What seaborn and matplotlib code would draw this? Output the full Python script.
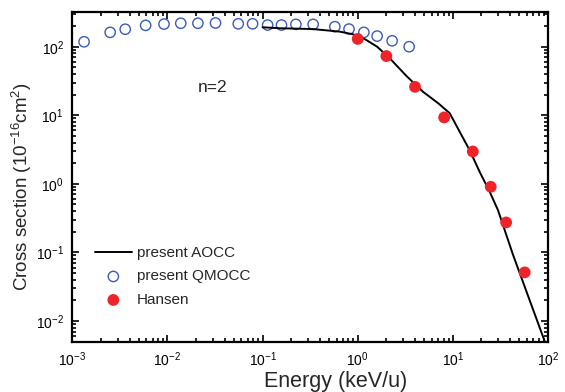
import matplotlib
matplotlib.use("Agg")
import matplotlib.pyplot as plt
import seaborn as sns
import numpy as np
import pandas as pd
from matplotlib.ticker import LogLocator, NullFormatter

# ---- data ----
aocc_energy = [0.1, 0.152, 0.337, 0.649, 0.89, 1.2, 1.6, 2.17, 3.26, 4.86, 7.0, 9.27,
               11.8, 15.0, 19.1, 24.4, 29.8, 42.9, 88.7, 100.0]
aocc_sigma = [192, 186, 181, 166, 152, 128, 100, 67.8, 37.3, 22.0, 15.0, 10.7,
              5.74, 3.1, 1.50, 0.764, 0.413, 0.092, 0.00586, 0.0038]

qmocc_energy = [0.00133, 0.0025, 0.0036, 0.0059, 0.0092, 0.0138, 0.0209, 0.032,
                0.0555, 0.0785, 0.113, 0.158, 0.224, 0.34, 0.575, 0.81, 1.16,
                1.6, 2.3, 3.47]
qmocc_sigma = [118, 162, 180, 205, 214, 220, 220, 222, 216, 216, 207, 207, 212,
               212, 196, 181, 162, 143, 122, 100]

hansen_energy = [1.0, 2.0, 4.0, 8.1, 16.2, 25.0, 36.3, 56.9]
hansen_sigma = [130, 73, 26, 9.3, 2.96, 0.905, 0.273, 0.051]

labels = ["present AOCC", "present QMOCC", "Hansen"]
annotation = "n=2"

# ---- style ----
sns.set_style("ticks")
plt.rcParams["font.family"] = ["Liberation Sans", "DejaVu Sans"]
plt.rcParams["mathtext.default"] = "regular"
plt.rcParams["mathtext.fontset"] = "custom"
plt.rcParams["mathtext.rm"] = "Liberation Sans"

fig = plt.figure(figsize=(5.65, 3.92), dpi=100)
ax = fig.add_axes([72.3 / 565, 1 - 341.7 / 392, (548 - 72.3) / 565, (341.7 - 12) / 392])

df_a = pd.DataFrame({"E": aocc_energy, "S": aocc_sigma})
df_q = pd.DataFrame({"E": qmocc_energy, "S": qmocc_sigma})
df_h = pd.DataFrame({"E": hansen_energy, "S": hansen_sigma})

sns.lineplot(data=df_a, x="E", y="S", ax=ax, color="black", linewidth=1.4,
             label=labels[0], sort=False, zorder=3)
sns.scatterplot(data=df_q, x="E", y="S", ax=ax, facecolor="none",
                edgecolor="#3a5cb8", linewidth=1.0, s=55, marker="o",
                label=labels[1], zorder=2)
sns.scatterplot(data=df_h, x="E", y="S", ax=ax, color="#ee2428",
                edgecolor="none", s=72, marker="o", label=labels[2], zorder=4)

ax.set_xscale("log")
ax.set_yscale("log")
ax.set_xlim(1e-3, 1e2)
ax.set_ylim(0.00497, 321)

ax.xaxis.set_major_locator(LogLocator(base=10, numticks=10))
ax.xaxis.set_minor_locator(LogLocator(base=10, subs=np.arange(2, 10), numticks=20))
ax.yaxis.set_major_locator(LogLocator(base=10, numticks=10))
ax.yaxis.set_minor_locator(LogLocator(base=10, subs=np.arange(2, 10), numticks=20))
ax.xaxis.set_minor_formatter(NullFormatter())
ax.yaxis.set_minor_formatter(NullFormatter())

ax.tick_params(which="both", direction="in", top=True, right=True, width=1.2,
               colors="black")
ax.tick_params(which="major", length=5, labelsize=10, pad=6)
ax.tick_params(which="minor", length=2.7)
for sp in ax.spines.values():
    sp.set_linewidth(1.6)
    sp.set_color("black")

ax.set_xlabel("Energy (keV/u)", fontsize=15.5)
ax.set_ylabel(r"Cross section (10$^{-16}$cm$^{2}$)", fontsize=13.5)
ax.xaxis.set_label_coords((336 - 72.3) / 475.7, -(381 - 341.7) / 329.7)
ax.yaxis.set_label_coords(-(72.3 - 22) / 475.7, (341.7 - 186.5) / 329.7)
ax.xaxis.label.set_va("center")
ax.yaxis.label.set_va("center")

ax.text(0.296, 0.772, annotation, transform=ax.transAxes, fontsize=12.5,
        ha="center", va="center")

leg = ax.legend(loc="upper left", bbox_to_anchor=(95 / 565, 1 - 246 / 392),
                bbox_transform=fig.transFigure, frameon=False, fontsize=11,
                borderpad=0, borderaxespad=0, handlelength=2.4,
                handletextpad=0.35, labelspacing=0.62)

fig.savefig("out.png", dpi=100)
